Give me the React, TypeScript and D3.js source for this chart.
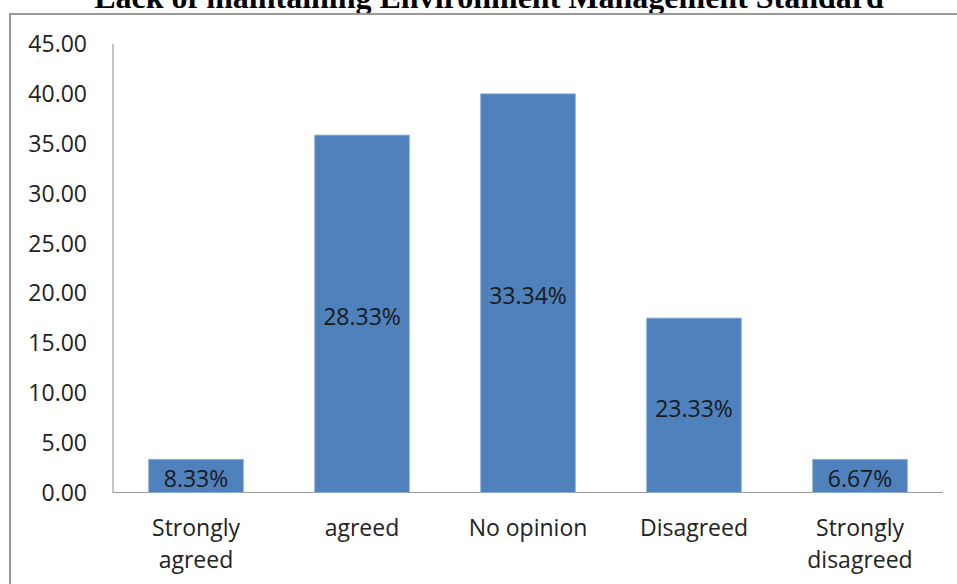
import React from "react";
import * as d3 from "d3";

const categories: string[][] = [
  ["Strongly", "agreed"],
  ["agreed"],
  ["No opinion"],
  ["Disagreed"],
  ["Strongly", "disagreed"],
];
const values: number[] = [3.33, 35.86, 40.0, 17.5, 3.33];
const barLabels: string[] = ["8.33%", "28.33%", "33.34%", "23.33%", "6.67%"];
const yTicks: number[] = [0, 5, 10, 15, 20, 25, 30, 35, 40, 45];
const title = "Lack of maintaining Environment Management Standard";

export default function App() {
  const W = 957;
  const H = 584;
  const left = 113;
  const right = 943;
  const top = 44;
  const bottom = 492.5;
  const y = d3.scaleLinear().domain([0, 45]).range([bottom, top]);
  const x = d3
    .scaleBand<number>()
    .domain(values.map((_, i) => i))
    .range([left, right])
    .paddingInner(0.43)
    .paddingOuter(0.215);
  const font = "'Open Sans', sans-serif";
  return (
    <svg
      width={W}
      height={H}
      style={{ position: "absolute", left: 0, top: 0, display: "block", background: "#fff" }}
    >
      <text
        x={489}
        y={8}
        textAnchor="middle"
        fontFamily="'Liberation Serif', serif"
        fontWeight="bold"
        fontSize={32}
        fill="#000"
      >
        {title}
      </text>
      <path d={`M10,${H + 5}V14H${W + 5}`} fill="none" stroke="#999" strokeWidth={2} />
      <line x1={left} x2={left} y1={top} y2={bottom} stroke="#999" strokeWidth={1.2} />
      <line x1={left} x2={right} y1={bottom} y2={bottom} stroke="#999" strokeWidth={1.2} />
      {yTicks.map((t) => (
        <text
          key={t}
          x={87}
          y={y(t)}
          dy="0.36em"
          textAnchor="end"
          fontFamily={font}
          fontSize={23}
          fill="#222"
        >
          {t.toFixed(2)}
        </text>
      ))}
      {values.map((v, i) => (
        <g key={i}>
          <rect
            x={x(i)}
            y={y(v)}
            width={x.bandwidth()}
            height={y(0) - y(v)}
            fill="#4F81BD"
            stroke="#8EB0DA"
            strokeWidth={0.8}
          />
          <text
            x={(x(i) as number) + x.bandwidth() / 2}
            y={(y(v) + y(0)) / 2 + 3}
            dy="0.36em"
            textAnchor="middle"
            fontFamily={font}
            fontSize={23}
            fill="#1a1a1a"
          >
            {barLabels[i]}
          </text>
          {categories[i].map((line, j) => (
            <text
              key={j}
              x={(x(i) as number) + x.bandwidth() / 2}
              y={528 + j * 32}
              dy="0.36em"
              textAnchor="middle"
              fontFamily={font}
              fontSize={23}
              fill="#222"
            >
              {line}
            </text>
          ))}
        </g>
      ))}
    </svg>
  );
}
